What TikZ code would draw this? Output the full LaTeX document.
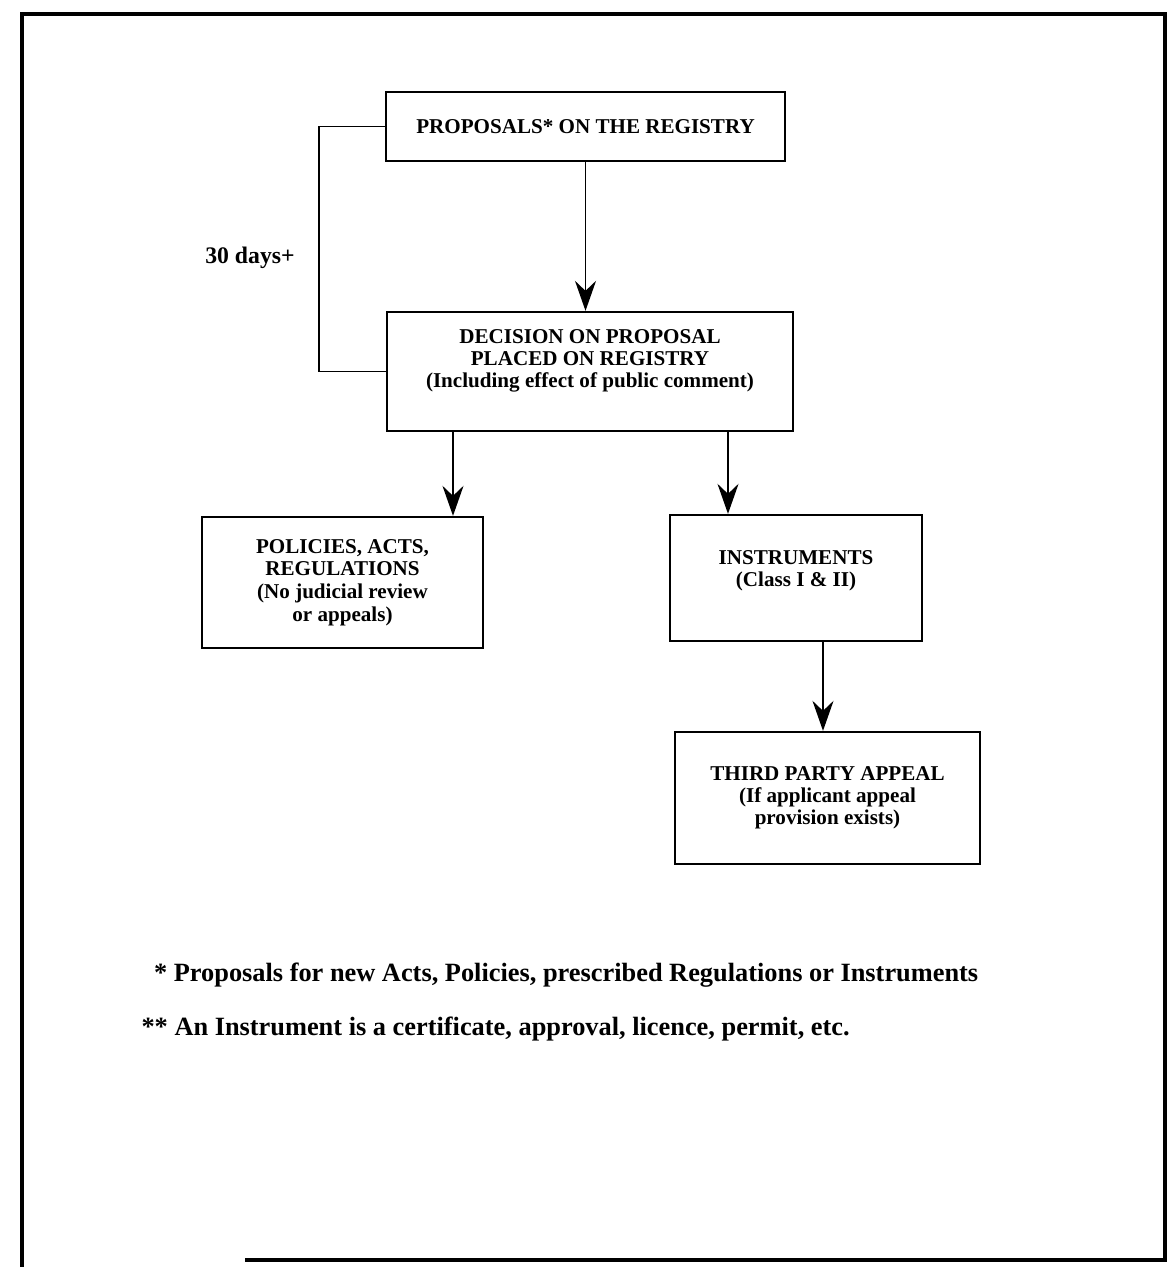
\documentclass[tikz,border=0pt]{standalone}
\usepackage{fontspec}
\setmainfont{Liberation Serif}
\usetikzlibrary{arrows.meta}

\begin{document}
\begin{tikzpicture}[thick,
  box/.style = {draw, line width=1.3pt, align=center, inner sep=0pt,
    font=\bfseries\fontsize{12}{12.6}\selectfont},
  note/.style = {anchor=west, font=\bfseries\fontsize{15}{17}\selectfont},
  arr/.style = {line width=1.1pt, -{Stealth[length=6mm, width=4.2mm, inset=2mm]}}]
\useasboundingbox (0,0) rectangle (23.42,-25.34);
% frame
\draw[line width=2.2pt] (4.9,-25.2) -- (23.3,-25.2) -- (23.3,-0.28) -- (0.44,-0.28) -- (0.44,-25.34);

\node[box, minimum width=7.98cm, minimum height=1.38cm] (1) at (11.71,-2.53) {PROPOSALS* ON THE REGISTRY};
\node[box, minimum width=8.12cm, minimum height=2.38cm] (2) at (11.80,-7.43) {DECISION ON PROPOSAL\\ PLACED ON REGISTRY\\ (Including effect of public comment)\\[2pt] \mbox{}};
\node[box, minimum width=5.62cm, minimum height=2.62cm, font=\bfseries\fontsize{12}{13}\selectfont] (3) at (6.85,-11.65) {\mbox{}\\[-5pt] POLICIES, ACTS,\\ REGULATIONS\\ (No judicial review\\ or appeals)};
\node[box, minimum width=5.04cm, minimum height=2.52cm] (4) at (15.92,-11.56) {INSTRUMENTS\\ (Class I \& II)\\[-2pt] \mbox{}};
\node[box, minimum width=6.10cm, minimum height=2.64cm] (5) at (16.55,-15.96) {THIRD PARTY APPEAL\\ (If applicant appeal\\ provision exists)};
\node[font=\bfseries\fontsize{13.5}{15}\selectfont] (days) at (5.0,-5.16) {30 days+};

\draw[arr] (1.south) -- (1.south |- 2.north);
\draw[arr] ([xshift=-2.74cm]2.south) -- ([xshift=-2.74cm]2.south |- 3.north);
\draw[arr] ([xshift=2.76cm]2.south) -- ([xshift=2.76cm]2.south |- 4.north);
\draw[arr] ([xshift=0.54cm]4.south) -- ([xshift=0.54cm]4.south |- 5.north);
\draw[line width=0.9pt] (1.west) -- ++(-1.32,0) |- (2.west);

\node[note] (n1) at (2.95,-19.5) {* Proposals for new Acts, Policies, prescribed Regulations or Instruments};
\node[note] (n2) at (2.7,-20.58) {** An Instrument is a certificate, approval, licence, permit, etc.};
\end{tikzpicture}
\end{document}
